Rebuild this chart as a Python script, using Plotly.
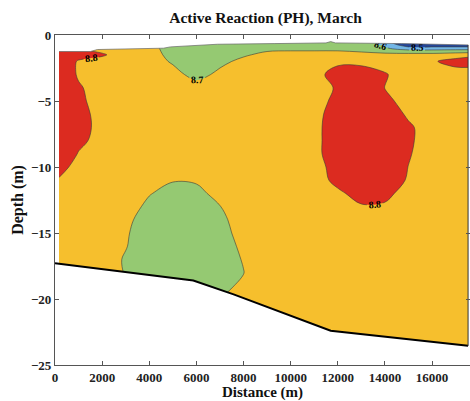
import plotly.graph_objects as go

# ---- data ----
dist = [170, 1000, 2000, 3000, 4000, 5000, 6000, 7000, 8000, 9000,
        10000, 11000, 12000, 13000, 14000, 15000, 16000, 17000, 17530]
depth = [0, -0.5, -1, -1.5, -2, -3, -4, -5, -6, -7, -8, -9, -10, -11, -12,
         -13, -14, -15, -16, -17, -18, -19, -20, -21, -22, -23, -24]

ph = [
    [8.90, 8.83, 8.77, 8.75, 8.72, 8.65, 8.64, 8.64, 8.65, 8.65, 8.65, 8.65, 8.64, 8.625, 8.57, 8.30, 8.30, 8.30, 8.30],
    [8.90, 8.83, 8.77, 8.75, 8.72, 8.65, 8.64, 8.64, 8.65, 8.65, 8.65, 8.65, 8.64, 8.625, 8.57, 8.30, 8.30, 8.30, 8.30],
    [8.88, 8.81, 8.77, 8.75, 8.73, 8.66, 8.65, 8.66, 8.67, 8.68, 8.68, 8.68, 8.68, 8.66, 8.61, 8.55, 8.55, 8.55, 8.55],
    [8.88, 8.84, 8.81, 8.76, 8.74, 8.67, 8.64, 8.66, 8.69, 8.72, 8.73, 8.73, 8.73, 8.73, 8.73, 8.74, 8.74, 8.76, 8.77],
    [8.88, 8.79, 8.77, 8.75, 8.74, 8.69, 8.65, 8.68, 8.72, 8.74, 8.75, 8.76, 8.785, 8.785, 8.775, 8.76, 8.79, 8.83, 8.85],
    [8.87, 8.79, 8.76, 8.75, 8.75, 8.73, 8.67, 8.72, 8.75, 8.75, 8.76, 8.775, 8.83, 8.83, 8.805, 8.77, 8.76, 8.76, 8.74],
    [8.87, 8.81, 8.76, 8.75, 8.75, 8.75, 8.74, 8.75, 8.75, 8.75, 8.76, 8.76, 8.81, 8.84, 8.799, 8.77, 8.76, 8.75, 8.75],
    [8.88, 8.82, 8.76, 8.75, 8.75, 8.75, 8.75, 8.75, 8.75, 8.75, 8.76, 8.77, 8.82, 8.85, 8.82, 8.77, 8.76, 8.75, 8.75],
    [8.89, 8.83, 8.77, 8.75, 8.75, 8.75, 8.75, 8.75, 8.75, 8.75, 8.76, 8.78, 8.83, 8.86, 8.84, 8.79, 8.76, 8.75, 8.75],
    [8.89, 8.83, 8.775, 8.75, 8.75, 8.75, 8.75, 8.75, 8.75, 8.75, 8.76, 8.785, 8.83, 8.86, 8.85, 8.81, 8.77, 8.75, 8.75],
    [8.88, 8.82, 8.77, 8.75, 8.75, 8.75, 8.75, 8.75, 8.75, 8.75, 8.76, 8.785, 8.83, 8.86, 8.85, 8.81, 8.77, 8.75, 8.75],
    [8.87, 8.795, 8.76, 8.75, 8.75, 8.75, 8.75, 8.75, 8.75, 8.75, 8.76, 8.785, 8.83, 8.86, 8.85, 8.805, 8.77, 8.75, 8.75],
    [8.82, 8.78, 8.76, 8.75, 8.75, 8.75, 8.75, 8.75, 8.75, 8.75, 8.76, 8.78, 8.82, 8.85, 8.84, 8.799, 8.77, 8.75, 8.75],
    [8.795, 8.77, 8.75, 8.75, 8.74, 8.705, 8.71, 8.74, 8.75, 8.75, 8.76, 8.775, 8.815, 8.84, 8.83, 8.795, 8.76, 8.75, 8.75],
    [8.77, 8.76, 8.75, 8.75, 8.705, 8.67, 8.675, 8.73, 8.75, 8.75, 8.75, 8.76, 8.79, 8.82, 8.82, 8.77, 8.76, 8.75, 8.75],
    [8.76, 8.75, 8.75, 8.74, 8.68, 8.65, 8.65, 8.698, 8.74, 8.75, 8.75, 8.75, 8.77, 8.795, 8.79, 8.76, 8.75, 8.75, 8.75],
    [8.75, 8.75, 8.75, 8.72, 8.66, 8.64, 8.64, 8.68, 8.74, 8.75, 8.75, 8.75, 8.75, 8.76, 8.76, 8.75, 8.75, 8.75, 8.75],
    [8.75, 8.75, 8.76, 8.71, 8.65, 8.63, 8.63, 8.67, 8.73, 8.75, 8.75, 8.75, 8.75, 8.75, 8.75, 8.75, 8.75, 8.75, 8.75],
    [8.75, 8.75, 8.75, 8.705, 8.64, 8.63, 8.63, 8.665, 8.715, 8.75, 8.75, 8.75, 8.75, 8.75, 8.75, 8.75, 8.75, 8.75, 8.75],
    [8.75, 8.75, 8.75, 8.69, 8.64, 8.63, 8.63, 8.66, 8.705, 8.75, 8.75, 8.75, 8.75, 8.75, 8.75, 8.75, 8.75, 8.75, 8.75],
    [8.75, 8.75, 8.75, 8.695, 8.64, 8.63, 8.63, 8.66, 8.698, 8.75, 8.75, 8.75, 8.75, 8.75, 8.75, 8.75, 8.75, 8.75, 8.75],
    [8.75, 8.75, 8.75, 8.72, 8.66, 8.64, 8.64, 8.67, 8.72, 8.75, 8.75, 8.75, 8.75, 8.75, 8.75, 8.75, 8.75, 8.75, 8.75],
    [8.75, 8.75, 8.75, 8.74, 8.72, 8.70, 8.70, 8.705, 8.74, 8.75, 8.75, 8.75, 8.75, 8.75, 8.75, 8.75, 8.75, 8.75, 8.75],
    [8.75] * 19,
    [8.75] * 19,
    [8.75] * 19,
    [8.75] * 19,
]

surface_x = [170, 1500, 1800, 3600, 4600, 4900, 6900, 9300, 11500, 11700, 11900, 14700, 17530]
surface_depth = [-1.25, -1.25, -1.1, -1.0, -1.0, -0.9, -0.7, -0.65, -0.6, -0.5, -0.6, -0.65, -0.75]

bottom_x = [0, 5870, 7580, 11700, 17530]
bottom_depth = [-17.3, -18.6, -19.65, -22.4, -23.55]

x_ticks = [0, 2000, 4000, 6000, 8000, 10000, 12000, 14000, 16000]
y_ticks = [0, -5, -10, -15, -20, -25]

x_range = [0, 17612]
y_range = [-25, 0]

# ---- styling ----
band_colors = ["#23469a", "#72b6e6", "#95c972", "#f6bf2d", "#dc2b20"]
colorscale = []
for i, c in enumerate(band_colors):
    colorscale.append([i / 5, c])
    colorscale.append([(i + 1) / 5, c])

serif = "Liberation Serif"

fig = go.Figure()

fig.add_trace(go.Contour(
    x=dist, y=depth, z=ph,
    zauto=False, zmin=8.4, zmax=8.9,
    colorscale=colorscale, showscale=False,
    contours=dict(start=8.5, end=8.8, size=0.1, coloring="fill",
                  showlabels=True,
                  labelfont=dict(family=serif, size=10, color="black", weight="bold")),
    line=dict(color="#3a3a3a", width=0.6),
    hoverinfo="skip",
))

# white mask above the water surface
fig.add_trace(go.Scatter(x=x_range, y=[y_range[1], y_range[1]], mode="lines",
                         line=dict(width=0, color="white"), hoverinfo="skip", showlegend=False))
fig.add_trace(go.Scatter(x=surface_x, y=surface_depth, mode="lines", fill="tonexty",
                         fillcolor="white", line=dict(width=0.7, color="#666666"),
                         hoverinfo="skip", showlegend=False))

# white mask below the bottom
fig.add_trace(go.Scatter(x=x_range, y=[y_range[0], y_range[0]], mode="lines",
                         line=dict(width=0, color="white"), hoverinfo="skip", showlegend=False))
fig.add_trace(go.Scatter(x=bottom_x, y=bottom_depth, mode="lines", fill="tonexty",
                         fillcolor="white", line=dict(width=2, color="black"),
                         hoverinfo="skip", showlegend=False))

# right edge of the section
fig.add_trace(go.Scatter(x=[surface_x[-1], bottom_x[-1]], y=[surface_depth[-1], bottom_depth[-1]],
                         mode="lines", line=dict(width=1, color="#333333"),
                         hoverinfo="skip", showlegend=False))

axis_common = dict(
    showgrid=False, zeroline=False, showline=True, linecolor="#555555", linewidth=1.2,
    mirror="allticks", ticks="inside", ticklen=4, tickcolor="#555555",
    tickfont=dict(family=serif, size=13, color="#222222", weight="bold"),
)

fig.update_layout(
    width=470, height=401,
    margin=dict(l=55, r=0, t=35, b=36),
    paper_bgcolor="white", plot_bgcolor="white",
    showlegend=False,
    title=dict(text="<b>Active Reaction (PH), March</b>", x=0.565, xanchor="center",
               y=1 - 18 / 401, yanchor="middle",
               font=dict(family=serif, size=15.5, color="#111111")),
    xaxis=dict(range=x_range, tickvals=x_ticks, tickformat="d", **axis_common,
               title=dict(text="<b>Distance (m)</b>", standoff=5,
                          font=dict(family=serif, size=15, color="#111111"))),
    yaxis=dict(range=y_range, tickvals=y_ticks, **axis_common,
               title=dict(text="<b>Depth (m)</b>", standoff=3,
                          font=dict(family=serif, size=16, color="#111111"))),
)

fig.write_html("out.html")
